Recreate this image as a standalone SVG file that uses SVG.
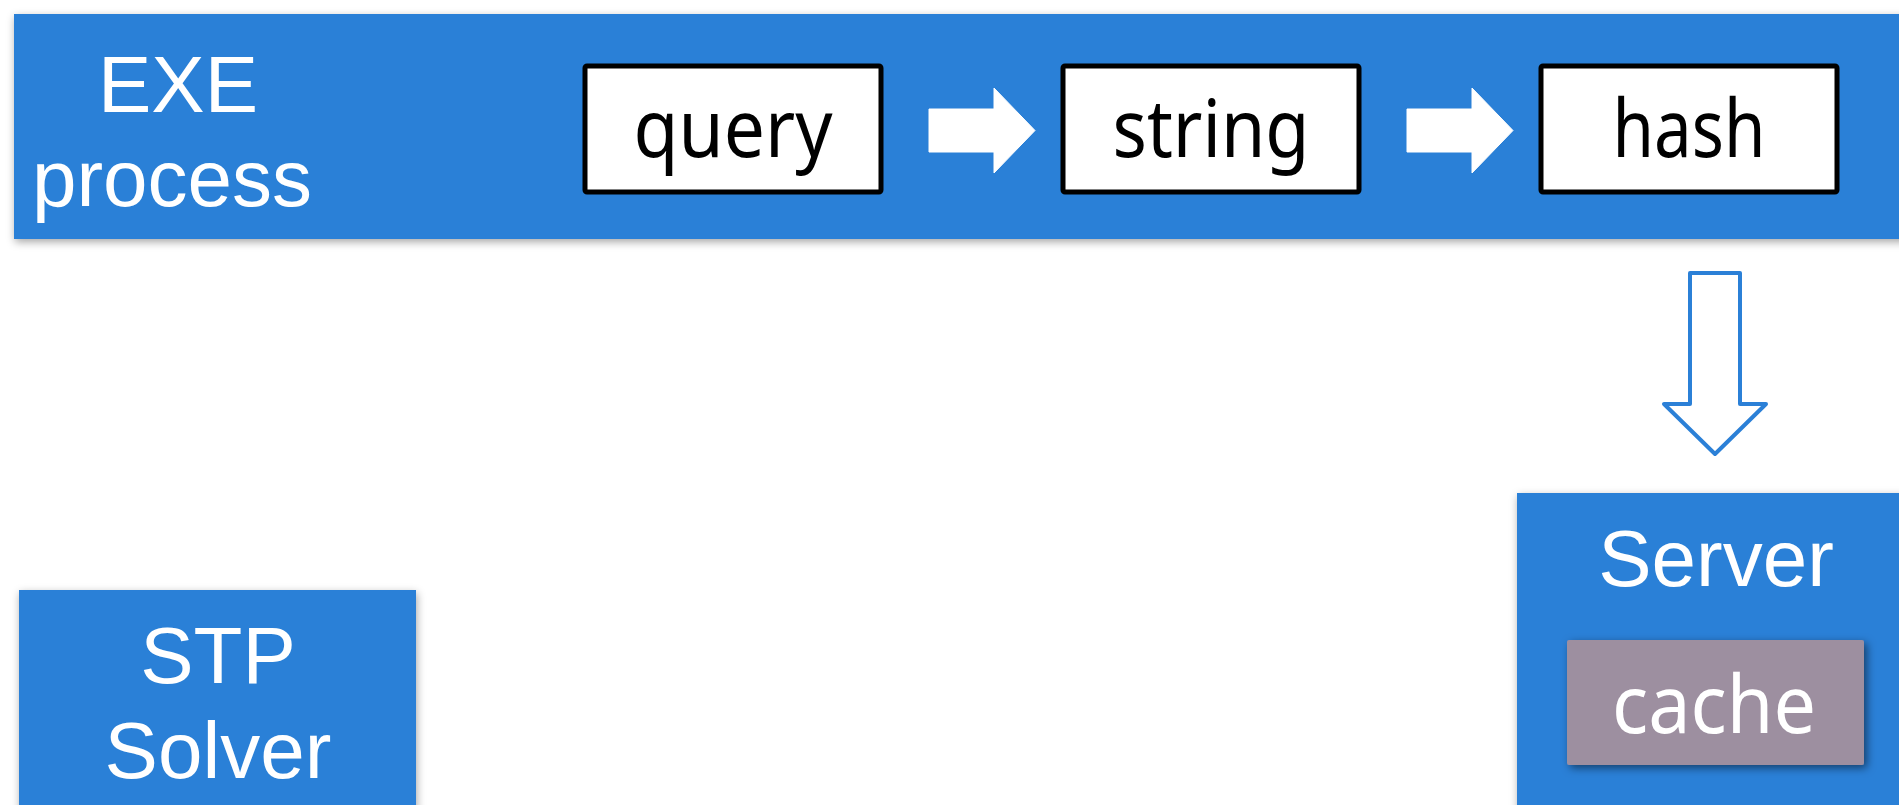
<svg xmlns="http://www.w3.org/2000/svg" width="1899" height="805" viewBox="0 0 1899 805">
<style>
.panel{fill:#2b80d7}
.lbl{font-family:"Liberation Sans",Arial,sans-serif;font-size:80px;fill:#ffffff;text-anchor:middle}
.box{fill:#ffffff;stroke:#000000;stroke-width:5}
.btxt{font-family:"Noto Sans","Open Sans",sans-serif;font-size:80px;fill:#000000;text-anchor:middle}
.flow{fill:#ffffff;stroke:#ffffff;stroke-width:1;stroke-linejoin:round}
.down{fill:#ffffff;stroke:#2b80d7;stroke-width:4;stroke-linejoin:round}
</style>
<defs>
<filter id="sh" x="-10%" y="-10%" width="130%" height="140%">
<feDropShadow dx="1" dy="3" stdDeviation="4" flood-color="#000" flood-opacity="0.35"/>
</filter>
<filter id="sh2" x="-10%" y="-10%" width="130%" height="140%">
<feDropShadow dx="3" dy="3" stdDeviation="4" flood-color="#000" flood-opacity="0.5"/>
</filter>
</defs>
<rect width="1899" height="805" fill="#ffffff"/>

<g id="exe">
<rect class="panel" x="14" y="14" width="1900" height="225" filter="url(#sh)"/>
<text class="lbl" x="178" y="112">EXE</text>
<text class="lbl" x="172" y="206">process</text>
</g>

<g id="query">
<rect class="box" x="585" y="66" width="296" height="126" rx="2"/>
<text class="btxt" x="733" y="157" textLength="199" lengthAdjust="spacingAndGlyphs">query</text>
</g>
<g id="string">
<rect class="box" x="1063" y="66" width="296" height="126" rx="2"/>
<text class="btxt" x="1211" y="157" textLength="197" lengthAdjust="spacingAndGlyphs">string</text>
</g>
<g id="hash">
<rect class="box" x="1541" y="66" width="296" height="126" rx="2"/>
<text class="btxt" x="1689" y="157" textLength="153" lengthAdjust="spacingAndGlyphs">hash</text>
</g>

<g id="server">
<rect class="panel" x="1517" y="493" width="400" height="330" filter="url(#sh)"/>
<text class="lbl" x="1716" y="586">Server</text>
</g>
<g id="cache">
<rect x="1567" y="640" width="297" height="125" rx="2" fill="#9d8fa0" filter="url(#sh2)"/>
<text class="btxt" x="1714" y="733" style="fill:#ffffff" textLength="204" lengthAdjust="spacingAndGlyphs">cache</text>
</g>

<g id="stp">
<rect class="panel" x="19" y="590" width="397" height="240" filter="url(#sh)"/>
<text class="lbl" x="218" y="683">STP</text>
<text class="lbl" x="218" y="778">Solver</text>
</g>

<g id="connectors">
<path class="flow" d="M929 109 H994 V88 L1035 130.5 L994 173 V152 H929 Z"/>
<path class="flow" d="M1407 109 H1472 V88 L1513 130.5 L1472 173 V152 H1407 Z"/>
<path class="down" d="M1690 273 H1740 V404 H1766 L1715 454 L1664 404 H1690 Z"/>
</g>
</svg>
